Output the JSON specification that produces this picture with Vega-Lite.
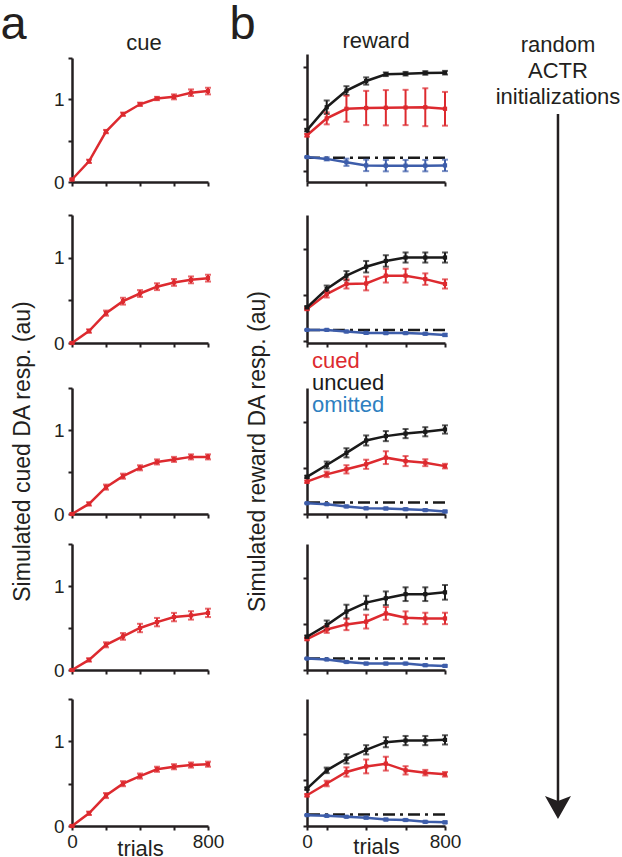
{
"$schema":"https://vega.github.io/schema/vega-lite/v6.json",
"padding":0,
"background":"white",
"columns":2,
"bounds":"flush",
"spacing":{"row":29,"column":99},
"resolve":{"scale":{"color":"independent"},"legend":{"color":"independent"}},
"config":{
 "font":"Liberation Sans",
 "view":{"stroke":null},
 "axis":{"grid":false,"domainColor":"#231f20","domainWidth":2.5,"tickColor":"#231f20","tickWidth":2,"tickSize":4,"labelFontSize":19,"labelColor":"#231f20","labelPadding":4,"labelFlush":false,"labelOverlap":false,"titleFontSize":23,"titleFontWeight":"normal","titleColor":"#231f20"},
 "axisX":{"labelPadding":2},
 "title":{"fontSize":22,"fontWeight":"normal","color":"#231f20","baseline":"alphabetic","anchor":"middle","frame":"group"}
},
"datasets":{
"cue":[
{"panel":1,"trial":0,"v":0.03,"err":0.01},{"panel":1,"trial":100,"v":0.25,"err":0.02},{"panel":1,"trial":200,"v":0.61,"err":0.02},{"panel":1,"trial":300,"v":0.82,"err":0.02},{"panel":1,"trial":400,"v":0.94,"err":0.02},{"panel":1,"trial":500,"v":1.01,"err":0.02},{"panel":1,"trial":600,"v":1.03,"err":0.03},{"panel":1,"trial":700,"v":1.08,"err":0.04},{"panel":1,"trial":800,"v":1.10,"err":0.04},
{"panel":2,"trial":0,"v":0,"err":0.01},{"panel":2,"trial":100,"v":0.14,"err":0.02},{"panel":2,"trial":200,"v":0.35,"err":0.03},{"panel":2,"trial":300,"v":0.49,"err":0.04},{"panel":2,"trial":400,"v":0.58,"err":0.04},{"panel":2,"trial":500,"v":0.66,"err":0.04},{"panel":2,"trial":600,"v":0.71,"err":0.04},{"panel":2,"trial":700,"v":0.74,"err":0.04},{"panel":2,"trial":800,"v":0.76,"err":0.04},
{"panel":3,"trial":0,"v":0,"err":0.01},{"panel":3,"trial":100,"v":0.12,"err":0.02},{"panel":3,"trial":200,"v":0.32,"err":0.03},{"panel":3,"trial":300,"v":0.45,"err":0.03},{"panel":3,"trial":400,"v":0.55,"err":0.03},{"panel":3,"trial":500,"v":0.62,"err":0.03},{"panel":3,"trial":600,"v":0.65,"err":0.03},{"panel":3,"trial":700,"v":0.68,"err":0.03},{"panel":3,"trial":800,"v":0.68,"err":0.03},
{"panel":4,"trial":0,"v":0,"err":0.01},{"panel":4,"trial":100,"v":0.12,"err":0.02},{"panel":4,"trial":200,"v":0.30,"err":0.03},{"panel":4,"trial":300,"v":0.40,"err":0.04},{"panel":4,"trial":400,"v":0.50,"err":0.05},{"panel":4,"trial":500,"v":0.57,"err":0.05},{"panel":4,"trial":600,"v":0.63,"err":0.05},{"panel":4,"trial":700,"v":0.65,"err":0.05},{"panel":4,"trial":800,"v":0.68,"err":0.05},
{"panel":5,"trial":0,"v":0,"err":0.01},{"panel":5,"trial":100,"v":0.15,"err":0.02},{"panel":5,"trial":200,"v":0.36,"err":0.03},{"panel":5,"trial":300,"v":0.50,"err":0.03},{"panel":5,"trial":400,"v":0.59,"err":0.03},{"panel":5,"trial":500,"v":0.67,"err":0.03},{"panel":5,"trial":600,"v":0.70,"err":0.03},{"panel":5,"trial":700,"v":0.72,"err":0.03},{"panel":5,"trial":800,"v":0.73,"err":0.03}
],
"rew":[
{"panel":1,"cond":"cued","trial":0,"v":0.87,"err":0.05},{"panel":1,"cond":"cued","trial":114.3,"v":1.52,"err":0.23},{"panel":1,"cond":"cued","trial":228.6,"v":1.89,"err":0.5},{"panel":1,"cond":"cued","trial":342.9,"v":1.92,"err":0.66},{"panel":1,"cond":"cued","trial":457.1,"v":1.93,"err":0.68},{"panel":1,"cond":"cued","trial":571.4,"v":1.94,"err":0.68},{"panel":1,"cond":"cued","trial":685.7,"v":1.95,"err":0.73},{"panel":1,"cond":"cued","trial":800,"v":1.89,"err":0.65},
{"panel":1,"cond":"uncued","trial":0,"v":1.07,"err":0.05},{"panel":1,"cond":"uncued","trial":114.3,"v":1.95,"err":0.26},{"panel":1,"cond":"uncued","trial":228.6,"v":2.59,"err":0.17},{"panel":1,"cond":"uncued","trial":342.9,"v":2.96,"err":0.14},{"panel":1,"cond":"uncued","trial":457.1,"v":3.22,"err":0.07},{"panel":1,"cond":"uncued","trial":571.4,"v":3.24,"err":0.07},{"panel":1,"cond":"uncued","trial":685.7,"v":3.27,"err":0.07},{"panel":1,"cond":"uncued","trial":800,"v":3.28,"err":0.07},
{"panel":1,"cond":"omitted","trial":0,"v":0.03,"err":0.02},{"panel":1,"cond":"omitted","trial":114.3,"v":-0.04,"err":0.06},{"panel":1,"cond":"omitted","trial":228.6,"v":-0.17,"err":0.14},{"panel":1,"cond":"omitted","trial":342.9,"v":-0.29,"err":0.22},{"panel":1,"cond":"omitted","trial":457.1,"v":-0.3,"err":0.22},{"panel":1,"cond":"omitted","trial":571.4,"v":-0.3,"err":0.22},{"panel":1,"cond":"omitted","trial":685.7,"v":-0.3,"err":0.22},{"panel":1,"cond":"omitted","trial":800,"v":-0.29,"err":0.22},
{"panel":2,"cond":"cued","trial":0,"v":0.91,"err":0.05},{"panel":2,"cond":"cued","trial":114.3,"v":1.56,"err":0.15},{"panel":2,"cond":"cued","trial":228.6,"v":2.0,"err":0.2},{"panel":2,"cond":"cued","trial":342.9,"v":2.02,"err":0.3},{"panel":2,"cond":"cued","trial":457.1,"v":2.36,"err":0.3},{"panel":2,"cond":"cued","trial":571.4,"v":2.36,"err":0.3},{"panel":2,"cond":"cued","trial":685.7,"v":2.21,"err":0.25},{"panel":2,"cond":"cued","trial":800,"v":2.0,"err":0.2},
{"panel":2,"cond":"uncued","trial":0,"v":0.98,"err":0.05},{"panel":2,"cond":"uncued","trial":114.3,"v":1.78,"err":0.15},{"panel":2,"cond":"uncued","trial":228.6,"v":2.36,"err":0.2},{"panel":2,"cond":"uncued","trial":342.9,"v":2.75,"err":0.25},{"panel":2,"cond":"uncued","trial":457.1,"v":3.0,"err":0.25},{"panel":2,"cond":"uncued","trial":571.4,"v":3.15,"err":0.22},{"panel":2,"cond":"uncued","trial":685.7,"v":3.15,"err":0.22},{"panel":2,"cond":"uncued","trial":800,"v":3.15,"err":0.22},
{"panel":2,"cond":"omitted","trial":0,"v":0,"err":0.02},{"panel":2,"cond":"omitted","trial":114.3,"v":0,"err":0.03},{"panel":2,"cond":"omitted","trial":228.6,"v":-0.07,"err":0.04},{"panel":2,"cond":"omitted","trial":342.9,"v":-0.13,"err":0.04},{"panel":2,"cond":"omitted","trial":457.1,"v":-0.14,"err":0.04},{"panel":2,"cond":"omitted","trial":571.4,"v":-0.14,"err":0.04},{"panel":2,"cond":"omitted","trial":685.7,"v":-0.17,"err":0.04},{"panel":2,"cond":"omitted","trial":800,"v":-0.22,"err":0.05},
{"panel":3,"cond":"cued","trial":0,"v":0.91,"err":0.05},{"panel":3,"cond":"cued","trial":114.3,"v":1.23,"err":0.12},{"panel":3,"cond":"cued","trial":228.6,"v":1.45,"err":0.18},{"panel":3,"cond":"cued","trial":342.9,"v":1.67,"err":0.2},{"panel":3,"cond":"cued","trial":457.1,"v":1.96,"err":0.28},{"panel":3,"cond":"cued","trial":571.4,"v":1.81,"err":0.22},{"panel":3,"cond":"cued","trial":685.7,"v":1.74,"err":0.15},{"panel":3,"cond":"cued","trial":800,"v":1.59,"err":0.1},
{"panel":3,"cond":"uncued","trial":0,"v":1.12,"err":0.05},{"panel":3,"cond":"uncued","trial":114.3,"v":1.64,"err":0.15},{"panel":3,"cond":"uncued","trial":228.6,"v":2.17,"err":0.2},{"panel":3,"cond":"uncued","trial":342.9,"v":2.71,"err":0.22},{"panel":3,"cond":"uncued","trial":457.1,"v":2.9,"err":0.22},{"panel":3,"cond":"uncued","trial":571.4,"v":3.01,"err":0.2},{"panel":3,"cond":"uncued","trial":685.7,"v":3.09,"err":0.2},{"panel":3,"cond":"uncued","trial":800,"v":3.19,"err":0.18},
{"panel":3,"cond":"omitted","trial":0,"v":-0.03,"err":0.02},{"panel":3,"cond":"omitted","trial":114.3,"v":-0.07,"err":0.03},{"panel":3,"cond":"omitted","trial":228.6,"v":-0.17,"err":0.04},{"panel":3,"cond":"omitted","trial":342.9,"v":-0.25,"err":0.04},{"panel":3,"cond":"omitted","trial":457.1,"v":-0.26,"err":0.04},{"panel":3,"cond":"omitted","trial":571.4,"v":-0.29,"err":0.04},{"panel":3,"cond":"omitted","trial":685.7,"v":-0.33,"err":0.04},{"panel":3,"cond":"omitted","trial":800,"v":-0.39,"err":0.04},
{"panel":4,"cond":"cued","trial":0,"v":0.85,"err":0.05},{"panel":4,"cond":"cued","trial":114.3,"v":1.27,"err":0.15},{"panel":4,"cond":"cued","trial":228.6,"v":1.49,"err":0.25},{"panel":4,"cond":"cued","trial":342.9,"v":1.61,"err":0.3},{"panel":4,"cond":"cued","trial":457.1,"v":1.97,"err":0.28},{"panel":4,"cond":"cued","trial":571.4,"v":1.78,"err":0.28},{"panel":4,"cond":"cued","trial":685.7,"v":1.75,"err":0.25},{"panel":4,"cond":"cued","trial":800,"v":1.75,"err":0.25},
{"panel":4,"cond":"uncued","trial":0,"v":0.95,"err":0.05},{"panel":4,"cond":"uncued","trial":114.3,"v":1.46,"err":0.2},{"panel":4,"cond":"uncued","trial":228.6,"v":2.05,"err":0.3},{"panel":4,"cond":"uncued","trial":342.9,"v":2.44,"err":0.3},{"panel":4,"cond":"uncued","trial":457.1,"v":2.63,"err":0.3},{"panel":4,"cond":"uncued","trial":571.4,"v":2.81,"err":0.3},{"panel":4,"cond":"uncued","trial":685.7,"v":2.81,"err":0.3},{"panel":4,"cond":"uncued","trial":800,"v":2.89,"err":0.32},
{"panel":4,"cond":"omitted","trial":0,"v":0,"err":0.02},{"panel":4,"cond":"omitted","trial":114.3,"v":-0.04,"err":0.03},{"panel":4,"cond":"omitted","trial":228.6,"v":-0.15,"err":0.04},{"panel":4,"cond":"omitted","trial":342.9,"v":-0.22,"err":0.04},{"panel":4,"cond":"omitted","trial":457.1,"v":-0.22,"err":0.04},{"panel":4,"cond":"omitted","trial":571.4,"v":-0.22,"err":0.04},{"panel":4,"cond":"omitted","trial":685.7,"v":-0.29,"err":0.04},{"panel":4,"cond":"omitted","trial":800,"v":-0.32,"err":0.04},
{"panel":5,"cond":"cued","trial":0,"v":0.83,"err":0.05},{"panel":5,"cond":"cued","trial":114.3,"v":1.34,"err":0.12},{"panel":5,"cond":"cued","trial":228.6,"v":1.84,"err":0.2},{"panel":5,"cond":"cued","trial":342.9,"v":2.08,"err":0.3},{"panel":5,"cond":"cued","trial":457.1,"v":2.2,"err":0.3},{"panel":5,"cond":"cued","trial":571.4,"v":1.91,"err":0.18},{"panel":5,"cond":"cued","trial":685.7,"v":1.81,"err":0.12},{"panel":5,"cond":"cued","trial":800,"v":1.74,"err":0.1},
{"panel":5,"cond":"uncued","trial":0,"v":1.12,"err":0.05},{"panel":5,"cond":"uncued","trial":114.3,"v":1.91,"err":0.12},{"panel":5,"cond":"uncued","trial":228.6,"v":2.41,"err":0.2},{"panel":5,"cond":"uncued","trial":342.9,"v":2.8,"err":0.2},{"panel":5,"cond":"uncued","trial":457.1,"v":3.13,"err":0.22},{"panel":5,"cond":"uncued","trial":571.4,"v":3.2,"err":0.2},{"panel":5,"cond":"uncued","trial":685.7,"v":3.2,"err":0.2},{"panel":5,"cond":"uncued","trial":800,"v":3.23,"err":0.2},
{"panel":5,"cond":"omitted","trial":0,"v":-0.03,"err":0.02},{"panel":5,"cond":"omitted","trial":114.3,"v":-0.06,"err":0.03},{"panel":5,"cond":"omitted","trial":228.6,"v":-0.1,"err":0.03},{"panel":5,"cond":"omitted","trial":342.9,"v":-0.14,"err":0.04},{"panel":5,"cond":"omitted","trial":457.1,"v":-0.22,"err":0.04},{"panel":5,"cond":"omitted","trial":571.4,"v":-0.24,"err":0.04},{"panel":5,"cond":"omitted","trial":685.7,"v":-0.32,"err":0.04},{"panel":5,"cond":"omitted","trial":800,"v":-0.34,"err":0.04}
]
},
"concat":[
{
 "width":136,"height":128,
 "title":{"text":"cue","offset":-55,"dx":4},
 "data":{"name":"cue"},
 "transform":[{"filter":"datum.panel == 1"}],
 "encoding":{
  "x":{"field":"trial","type":"quantitative","title":null,"scale":{"domain":[0,800],"nice":false},"axis":{"values":[0,200,400,600,800],"labels":false}},
  "y":{"field":"v","type":"quantitative","title":"a","scale":{"domain":[0,1.5],"range":[128,4],"nice":false,"zero":false},"axis":{"values":[0,0.5,1,1.5],"labelOverlap":false,"labelExpr":"datum.value == 0 ? '0' : datum.value == 1 ? '1' : ''","titleAngle":0,"titleAlign":"left","titleBaseline":"alphabetic","titleX":-72,"titleY":-16,"titleFontSize":47}}
 },
 "layer":[
  {"mark":{"type":"line","color":"#dd2a2f","strokeWidth":2.5}},
  {"mark":{"type":"errorbar","color":"#dd2a2f","thickness":2,"ticks":{"size":6,"thickness":2}},"encoding":{"yError":{"field":"err"}}},
  {"mark":{"type":"point","shape":"square","filled":true,"size":18,"color":"#dd2a2f","opacity":1}}
 ]
},
{
 "width":138,"height":128,
 "title":{"text":"reward","offset":-53},
 "resolve":{"scale":{"y":"independent"}},
 "layer":[
  {"layer":[
   {"data":{"values":[{}]},"mark":{"type":"rule","color":"#1a1a1a","strokeWidth":2.5,"strokeDash":[12,5,3,5]},"encoding":{"y":{"datum":0,"type":"quantitative","title":null}}},
   {"data":{"name":"rew"},"transform":[{"filter":"datum.panel == 1"}],
    "encoding":{
     "x":{"field":"trial","type":"quantitative","title":null,"scale":{"domain":[0,800],"nice":false},"axis":{"values":[0,114.3,342.9,571.4,800],"labels":false}},
     "y":{"field":"v","type":"quantitative","title":"b","scale":{"domain":[-0.93,4],"range":[128,0],"nice":false,"zero":false},"axis":{"values":[-0.5,0,0.5,1,1.5,2,2.5,3,3.5,4],"labelOverlap":false,"labelExpr":"datum.value == 0 ? '0' : datum.value == 4 ? '4' : ''","titleAngle":0,"titleAlign":"left","titleBaseline":"alphabetic","titleX":-78,"titleY":-16,"titleFontSize":47}},
     "color":{"field":"cond","type":"nominal","scale":{"domain":["cued","uncued","omitted"],"range":["#dd2a2f","#1a1a1a","#3d5daa"]},"legend":null}
    },
    "layer":[
     {"mark":{"type":"line","strokeWidth":2.5}},
     {"mark":{"type":"errorbar","thickness":2,"ticks":{"size":6,"thickness":2}},"encoding":{"yError":{"field":"err"}}},
     {"mark":{"type":"point","shape":"square","filled":true,"size":18,"opacity":1}}
    ]}
  ]},
  {"data":{"values":[{"label":"random\nACTR\ninitializations"}]},
   "encoding":{"x":{"datum":1455,"type":"quantitative","title":null}},
   "layer":[
    {"mark":{"type":"rule","color":"#231f20","strokeWidth":2.5},"encoding":{"y":{"datum":1,"type":"quantitative","scale":{"domain":[0,1],"range":[752,60],"nice":false,"zero":false},"axis":null},"y2":{"datum":0}}},
    {"mark":{"type":"point","shape":"M0,1L-1,-0.77L0,-0.38L1,-0.77Z","size":676,"filled":true,"color":"#231f20","opacity":1,"strokeWidth":0},"encoding":{"y":{"datum":0,"type":"quantitative","axis":null}}},
    {"mark":{"type":"text","fontSize":22,"lineBreak":"\n","lineHeight":26,"align":"center","baseline":"alphabetic","color":"#231f20"},"encoding":{"y":{"datum":1.09,"type":"quantitative","axis":null},"text":{"field":"label"}}}
   ]}
 ]
},
{
 "width":136,"height":132,
 "data":{"name":"cue"},
 "transform":[{"filter":"datum.panel == 2"}],
 "encoding":{
  "x":{"field":"trial","type":"quantitative","title":null,"scale":{"domain":[0,800],"nice":false},"axis":{"values":[0,200,400,600,800],"labels":false}},
  "y":{"field":"v","type":"quantitative","title":null,"scale":{"domain":[0,1.5],"range":[132,4],"nice":false,"zero":false},"axis":{"values":[0,0.5,1,1.5],"labelOverlap":false,"labelExpr":"datum.value == 0 ? '0' : datum.value == 1 ? '1' : ''"}}
 },
 "layer":[
  {"mark":{"type":"line","color":"#dd2a2f","strokeWidth":2.5}},
  {"mark":{"type":"errorbar","color":"#dd2a2f","thickness":2,"ticks":{"size":6,"thickness":2}},"encoding":{"yError":{"field":"err"}}},
  {"mark":{"type":"point","shape":"square","filled":true,"size":18,"color":"#dd2a2f","opacity":1}}
 ]
},
{
 "width":138,"height":132,
 "layer":[
  {"data":{"values":[{}]},"mark":{"type":"rule","color":"#1a1a1a","strokeWidth":2.5,"strokeDash":[12,5,3,5]},"encoding":{"y":{"datum":0,"type":"quantitative","title":null}}},
  {"data":{"name":"rew"},"transform":[{"filter":"datum.panel == 2"}],
   "encoding":{
    "x":{"field":"trial","type":"quantitative","title":null,"scale":{"domain":[0,800],"nice":false},"axis":{"values":[0,114.3,342.9,571.4,800],"labels":false}},
    "y":{"field":"v","type":"quantitative","title":null,"scale":{"domain":[-0.57,5],"range":[132,4],"nice":false,"zero":false},"axis":{"values":[-0.5,0,0.5,1,1.5,2,2.5,3,3.5,4,4.5,5],"labelOverlap":false,"labelExpr":"datum.value == 0 ? '0' : datum.value == 5 ? '5' : ''"}},
    "color":{"field":"cond","type":"nominal","scale":{"domain":["cued","uncued","omitted"],"range":["#dd2a2f","#1a1a1a","#3d5daa"]},"legend":null}
   },
   "layer":[
    {"mark":{"type":"line","strokeWidth":2.5}},
    {"mark":{"type":"errorbar","thickness":2,"ticks":{"size":6,"thickness":2}},"encoding":{"yError":{"field":"err"}}},
    {"mark":{"type":"point","shape":"square","filled":true,"size":18,"opacity":1}}
   ]}
 ]
},
{
 "width":136,"height":142,
 "data":{"name":"cue"},
 "transform":[{"filter":"datum.panel == 3"}],
 "encoding":{
  "x":{"field":"trial","type":"quantitative","title":null,"scale":{"domain":[0,800],"nice":false},"axis":{"values":[0,200,400,600,800],"labels":false}},
  "y":{"field":"v","type":"quantitative","title":"Simulated cued DA resp. (au)","scale":{"domain":[0,1.5],"range":[142,16],"nice":false,"zero":false},"axis":{"values":[0,0.5,1,1.5],"labelOverlap":false,"labelExpr":"datum.value == 0 ? '0' : datum.value == 1 ? '1' : ''","titleX":-50,"titleBaseline":"middle"}}
 },
 "layer":[
  {"mark":{"type":"line","color":"#dd2a2f","strokeWidth":2.5}},
  {"mark":{"type":"errorbar","color":"#dd2a2f","thickness":2,"ticks":{"size":6,"thickness":2}},"encoding":{"yError":{"field":"err"}}},
  {"mark":{"type":"point","shape":"square","filled":true,"size":18,"color":"#dd2a2f","opacity":1}}
 ]
},
{
 "width":138,"height":142,
 "layer":[
  {"data":{"values":[{}]},"mark":{"type":"rule","color":"#1a1a1a","strokeWidth":2.5,"strokeDash":[12,5,3,5]},"encoding":{"y":{"datum":0,"type":"quantitative","title":null}}},
  {"data":{"name":"rew"},"transform":[{"filter":"datum.panel == 3"}],
   "encoding":{
    "x":{"field":"trial","type":"quantitative","title":null,"scale":{"domain":[0,800],"nice":false},"axis":{"values":[0,114.3,342.9,571.4,800],"labels":false}},
    "y":{"field":"v","type":"quantitative","title":"Simulated reward DA resp. (au)","scale":{"domain":[-0.5,5],"range":[142,16],"nice":false,"zero":false},"axis":{"values":[-0.5,0,0.5,1,1.5,2,2.5,3,3.5,4,4.5,5],"labelOverlap":false,"labelExpr":"datum.value == 0 ? '0' : datum.value == 5 ? '5' : ''","titleX":-50,"titleBaseline":"middle"}},
    "color":{"field":"cond","type":"nominal","scale":{"domain":["cued","uncued","omitted"],"range":["#dd2a2f","#1a1a1a","#3d5daa"]},
     "legend":{"orient":"none","legendX":-17,"legendY":-22,"title":null,"labelFontSize":22,"labelColor":{"expr":"datum.value === 'cued' ? '#dd2a2f' : datum.value === 'uncued' ? '#1a1a1a' : '#2e7fc0'"},"symbolSize":0,"symbolOpacity":0,"symbolStrokeWidth":0,"labelOffset":0,"rowPadding":-1,"padding":0}}
   },
   "layer":[
    {"mark":{"type":"line","strokeWidth":2.5}},
    {"mark":{"type":"errorbar","thickness":2,"ticks":{"size":6,"thickness":2}},"encoding":{"yError":{"field":"err"}}},
    {"mark":{"type":"point","shape":"square","filled":true,"size":18,"opacity":1}}
   ]}
 ]
},
{
 "width":136,"height":127,
 "data":{"name":"cue"},
 "transform":[{"filter":"datum.panel == 4"}],
 "encoding":{
  "x":{"field":"trial","type":"quantitative","title":null,"scale":{"domain":[0,800],"nice":false},"axis":{"values":[0,200,400,600,800],"labels":false}},
  "y":{"field":"v","type":"quantitative","title":null,"scale":{"domain":[0,1.5],"range":[127,1],"nice":false,"zero":false},"axis":{"values":[0,0.5,1,1.5],"labelOverlap":false,"labelExpr":"datum.value == 0 ? '0' : datum.value == 1 ? '1' : ''"}}
 },
 "layer":[
  {"mark":{"type":"line","color":"#dd2a2f","strokeWidth":2.5}},
  {"mark":{"type":"errorbar","color":"#dd2a2f","thickness":2,"ticks":{"size":6,"thickness":2}},"encoding":{"yError":{"field":"err"}}},
  {"mark":{"type":"point","shape":"square","filled":true,"size":18,"color":"#dd2a2f","opacity":1}}
 ]
},
{
 "width":138,"height":127,
 "layer":[
  {"data":{"values":[{}]},"mark":{"type":"rule","color":"#1a1a1a","strokeWidth":2.5,"strokeDash":[12,5,3,5]},"encoding":{"y":{"datum":0,"type":"quantitative","title":null}}},
  {"data":{"name":"rew"},"transform":[{"filter":"datum.panel == 4"}],
   "encoding":{
    "x":{"field":"trial","type":"quantitative","title":null,"scale":{"domain":[0,800],"nice":false},"axis":{"values":[0,114.3,342.9,571.4,800],"labels":false}},
    "y":{"field":"v","type":"quantitative","title":null,"scale":{"domain":[-0.5,5],"range":[127,1],"nice":false,"zero":false},"axis":{"values":[-0.5,0,0.5,1,1.5,2,2.5,3,3.5,4,4.5,5],"labelOverlap":false,"labelExpr":"datum.value == 0 ? '0' : datum.value == 5 ? '5' : ''"}},
    "color":{"field":"cond","type":"nominal","scale":{"domain":["cued","uncued","omitted"],"range":["#dd2a2f","#1a1a1a","#3d5daa"]},"legend":null}
   },
   "layer":[
    {"mark":{"type":"line","strokeWidth":2.5}},
    {"mark":{"type":"errorbar","thickness":2,"ticks":{"size":6,"thickness":2}},"encoding":{"yError":{"field":"err"}}},
    {"mark":{"type":"point","shape":"square","filled":true,"size":18,"opacity":1}}
   ]}
 ]
},
{
 "width":136,"height":127,
 "data":{"name":"cue"},
 "transform":[{"filter":"datum.panel == 5"}],
 "encoding":{
  "x":{"field":"trial","type":"quantitative","title":"trials","scale":{"domain":[0,800],"nice":false},"axis":{"values":[0,200,400,600,800],"labelOverlap":false,"labelExpr":"datum.value == 0 ? '0' : datum.value == 800 ? '800' : ''","titleFontSize":22,"titleBaseline":"alphabetic","titleY":29}},
  "y":{"field":"v","type":"quantitative","title":null,"scale":{"domain":[0,1.5],"range":[127,0],"nice":false,"zero":false},"axis":{"values":[0,0.5,1,1.5],"labelOverlap":false,"labelExpr":"datum.value == 0 ? '0' : datum.value == 1 ? '1' : ''"}}
 },
 "layer":[
  {"mark":{"type":"line","color":"#dd2a2f","strokeWidth":2.5}},
  {"mark":{"type":"errorbar","color":"#dd2a2f","thickness":2,"ticks":{"size":6,"thickness":2}},"encoding":{"yError":{"field":"err"}}},
  {"mark":{"type":"point","shape":"square","filled":true,"size":18,"color":"#dd2a2f","opacity":1}}
 ]
},
{
 "width":138,"height":127,
 "layer":[
  {"data":{"values":[{}]},"mark":{"type":"rule","color":"#1a1a1a","strokeWidth":2.5,"strokeDash":[12,5,3,5]},"encoding":{"y":{"datum":0,"type":"quantitative","title":null}}},
  {"data":{"name":"rew"},"transform":[{"filter":"datum.panel == 5"}],
   "encoding":{
    "x":{"field":"trial","type":"quantitative","title":"trials","scale":{"domain":[0,800],"nice":false},"axis":{"values":[0,114.3,342.9,571.4,800],"labelOverlap":false,"labelExpr":"datum.value == 0 ? '0' : datum.value == 800 ? '800' : ''","titleFontSize":22,"titleBaseline":"alphabetic","titleY":27}},
    "y":{"field":"v","type":"quantitative","title":null,"scale":{"domain":[-0.5,5],"range":[127,0],"nice":false,"zero":false},"axis":{"values":[-0.5,0,0.5,1,1.5,2,2.5,3,3.5,4,4.5,5],"labelOverlap":false,"labelExpr":"datum.value == 0 ? '0' : datum.value == 5 ? '5' : ''"}},
    "color":{"field":"cond","type":"nominal","scale":{"domain":["cued","uncued","omitted"],"range":["#dd2a2f","#1a1a1a","#3d5daa"]},"legend":null}
   },
   "layer":[
    {"mark":{"type":"line","strokeWidth":2.5}},
    {"mark":{"type":"errorbar","thickness":2,"ticks":{"size":6,"thickness":2}},"encoding":{"yError":{"field":"err"}}},
    {"mark":{"type":"point","shape":"square","filled":true,"size":18,"opacity":1}}
   ]}
 ]
}
]
}
